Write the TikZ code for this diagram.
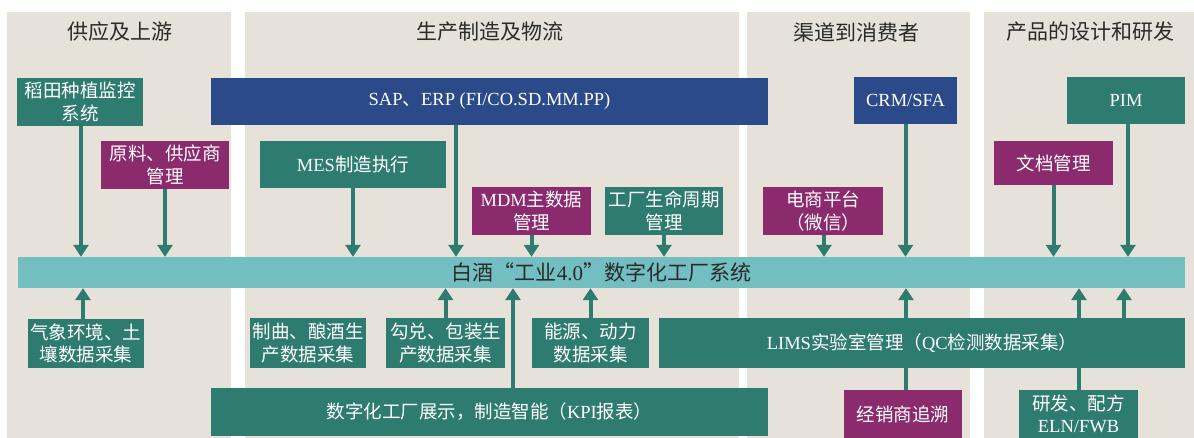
\documentclass[tikz,border=0pt]{standalone}
\usepackage{fontspec}
\setmainfont{Liberation Serif}
\newfontfamily\cjk{Noto Sans CJK SC}
\usetikzlibrary{arrows.meta}
\definecolor{panelbg}{HTML}{E6E2DA}
\definecolor{tealc}{HTML}{2E7B6F}
\definecolor{purplec}{HTML}{8C2A6E}
\definecolor{bluec}{HTML}{2B4A89}
\definecolor{barc}{HTML}{72BEC0}
\definecolor{titlec}{HTML}{2A2A2A}
\tikzset{
  panel/.style={fill=panelbg, draw=none},
  ptitle/.style={text=titlec, font=\fontsize{21pt}{25pt}\selectfont},
  box/.style={draw=none, text=white, align=center, inner sep=0pt,
    font=\fontsize{18.5pt}{22.5pt}\selectfont},
  tbox/.style={box, fill=tealc},
  pbox/.style={box, fill=purplec},
  bbox/.style={box, fill=bluec},
  arr/.style={draw=tealc, line width=4pt, -{Triangle[width=15pt,length=12pt]}},
  link/.style={draw=tealc, line width=4pt},
}
\begin{document}
\begin{tikzpicture}[x=1pt,y=-1pt]
\fill[white] (0,0) rectangle (1194,438);
\useasboundingbox (0,0) rectangle (1194,438);
% panels
\fill[panel] (7,12) rectangle (231,438);
\fill[panel] (245,12) rectangle (739,438);
\fill[panel] (747,12) rectangle (970,438);
\fill[panel] (984,12) rectangle (1194,438);
\node[ptitle] (t1) at (120,32) {\cjk 供应及上游};
\node[ptitle] (t2) at (490,32) {\cjk 生产制造及物流};
\node[ptitle] (t3) at (856,32) {\cjk 渠道到消费者};
\node[ptitle] (t4) at (1090,32) {\cjk 产品的设计和研发};
% top boxes
\node[tbox, minimum width=126pt, minimum height=48pt] (rice) at (80,102) {\cjk 稻田种植监控\\\cjk 系统};
\node[pbox, minimum width=128pt, minimum height=48pt] (raw) at (165,165) {\cjk 原料、供应商\\\cjk 管理};
\node[bbox, minimum width=557pt, minimum height=47pt] (sap) at (489.5,101.5) {SAP{\cjk 、}ERP (FI/CO.SD.MM.PP)};
\node[tbox, minimum width=186pt, minimum height=47pt] (mes) at (353,164.5) {MES{\cjk 制造执行}};
\node[pbox, minimum width=119pt, minimum height=48pt] (mdm) at (531.5,211) {MDM{\cjk 主数据}\\\cjk 管理};
\node[tbox, minimum width=118pt, minimum height=48pt] (plm) at (664,211) {\cjk 工厂生命周期\\\cjk 管理};
\node[pbox, minimum width=120pt, minimum height=48pt] (ec) at (823,211) {\cjk 电商平台\\\cjk （微信）};
\node[bbox, minimum width=103pt, minimum height=47pt] (crm) at (905.5,100.5) {CRM/SFA};
\node[tbox, minimum width=118pt, minimum height=47pt] (pim) at (1126,100.5) {PIM};
\node[pbox, minimum width=119pt, minimum height=44pt] (doc) at (1053.5,163) {\cjk 文档管理};
% main bar
\node[box, fill=barc, text=titlec, minimum width=1167pt, minimum height=31pt, font=\fontsize{21pt}{25pt}\selectfont] (bar) at (601.5,272.5) {\cjk 白酒“工业{\rmfamily 4.0}”数字化工厂系统};
% lower boxes
\node[tbox, minimum width=116pt, minimum height=49pt] (env) at (86,343.5) {\cjk 气象环境、土\\\cjk 壤数据采集};
\node[tbox, minimum width=116pt, minimum height=50pt] (ferm) at (308,343) {\cjk 制曲、酿酒生\\\cjk 产数据采集};
\node[tbox, minimum width=119pt, minimum height=50pt] (blend) at (445.5,343) {\cjk 勾兑、包装生\\\cjk 产数据采集};
\node[tbox, minimum width=117pt, minimum height=50pt] (energy) at (590.5,343) {\cjk 能源、动力\\\cjk 数据采集};
\node[tbox, minimum width=526pt, minimum height=50pt] (lims) at (922,343) {LIMS{\cjk 实验室管理（}QC{\cjk 检测数据采集）}};
\node[tbox, minimum width=557pt, minimum height=48pt] (kpi) at (489.5,412) {\cjk 数字化工厂展示，制造智能（{\rmfamily KPI}报表）};
\node[pbox, minimum width=118pt, minimum height=48pt] (dealer) at (903,414) {\cjk 经销商追溯};
\node[tbox, minimum width=119pt, minimum height=48pt] (rd) at (1078.5,414) {\cjk 研发、配方\\ELN/FWB};
% down arrows
\draw[arr] ([xshift=1pt]rice.south) -- ([xshift=1pt]rice.south |- bar.north);
\draw[arr] (raw.south) -- (raw.south |- bar.north);
\draw[arr] (mes.south) -- (mes.south |- bar.north);
\draw[arr] ([xshift=-33.5pt]sap.south) -- ([xshift=-33.5pt]sap.south |- bar.north);
\draw[arr] (mdm.south) -- (mdm.south |- bar.north);
\draw[arr] (plm.south) -- (plm.south |- bar.north);
\draw[arr] ([xshift=1pt]ec.south) -- ([xshift=1pt]ec.south |- bar.north);
\draw[arr] (crm.south) -- (crm.south |- bar.north);
\draw[arr] (doc.south) -- (doc.south |- bar.north);
\draw[arr] ([xshift=2pt]pim.south) -- ([xshift=2pt]pim.south |- bar.north);
% up arrows
\draw[arr] ([xshift=-3pt]env.north) -- ([xshift=-3pt]env.north |- bar.south);
\draw[arr] (blend.north) -- (blend.north |- bar.south);
\draw[arr] ([xshift=23.5pt]kpi.north) -- ([xshift=23.5pt]kpi.north |- bar.south);
\draw[arr] (energy.north) -- (energy.north |- bar.south);
\draw[arr] ([xshift=-16pt]lims.north) -- ([xshift=-16pt]lims.north |- bar.south);
\draw[arr] ([xshift=157pt]lims.north) -- ([xshift=157pt]lims.north |- bar.south);
\draw[arr] ([xshift=202pt]lims.north) -- ([xshift=202pt]lims.north |- bar.south);
% links
\draw[link] ([xshift=3pt]dealer.north) -- ([xshift=3pt]dealer.north |- lims.south);
\draw[link] ([xshift=0.5pt]rd.north) -- ([xshift=0.5pt]rd.north |- lims.south);
\end{tikzpicture}
\end{document}
